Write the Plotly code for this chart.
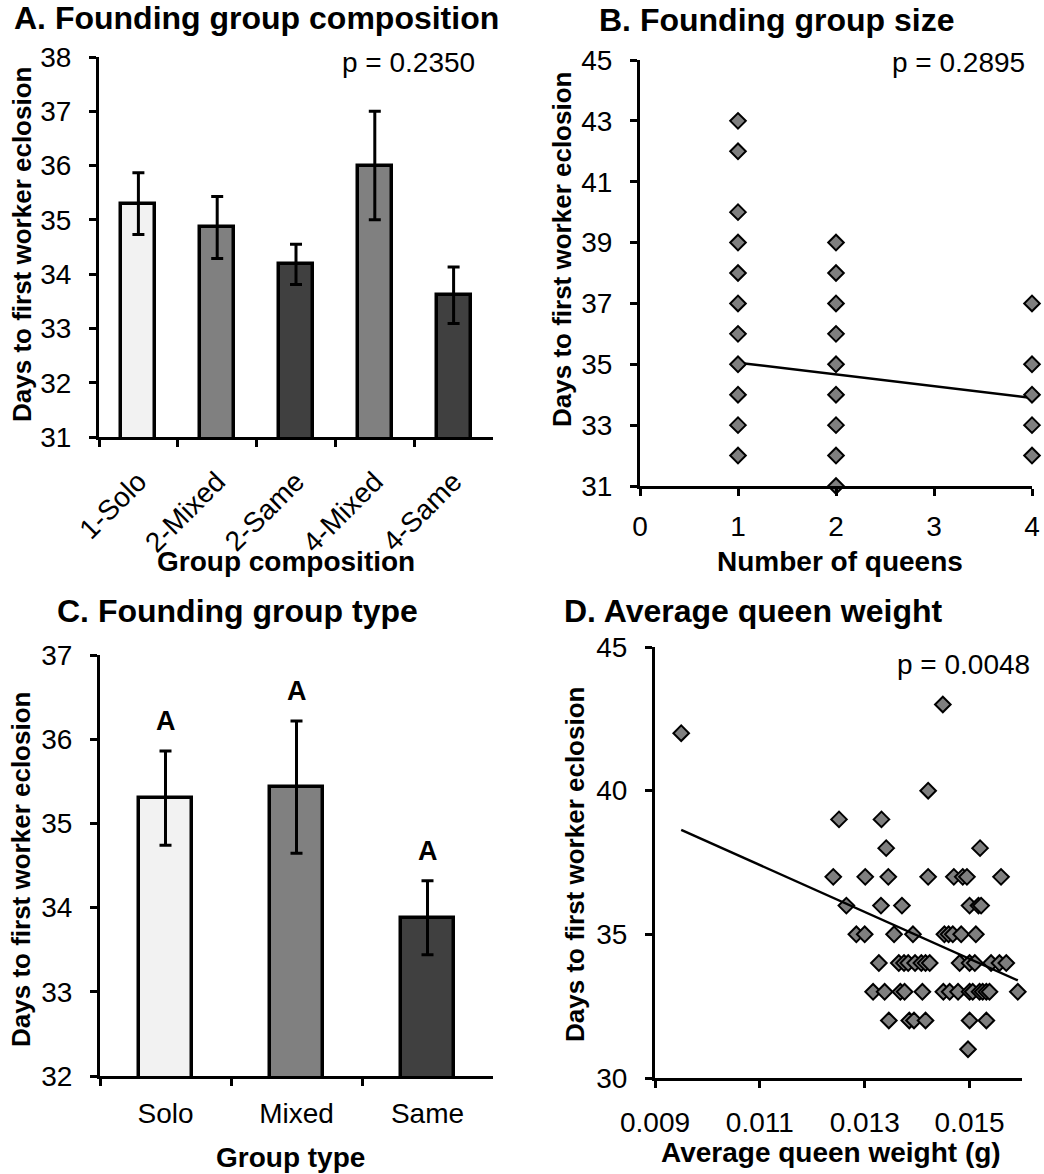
import plotly.graph_objects as go

W, H = 1044, 1174
FONT = "Liberation Sans, Arial, sans-serif"

# ---- A. Founding group composition (means ± SE) ----
comp_labels = ["1-Solo", "2-Mixed", "2-Same", "4-Mixed", "4-Same"]
comp_means = [35.30, 34.86, 34.18, 36.00, 33.61]
comp_se = [0.57, 0.57, 0.37, 1.00, 0.52]
comp_colors = ["#f2f2f2", "#808080", "#404040", "#808080", "#404040"]

# ---- B. Founding group size ----
size_q1 = [32, 33, 34, 35, 36, 37, 38, 39, 40, 42, 43]
size_q2 = [31, 32, 33, 34, 35, 36, 37, 38, 39]
size_q4 = [32, 33, 34, 35, 37]
size_fit = {"slope": -0.387, "intercept": 35.44}

# ---- C. Founding group type (means ± SE) ----
type_labels = ["Solo", "Mixed", "Same"]
type_means = [35.30, 35.43, 33.88]
type_se = [0.56, 0.785, 0.44]
type_colors = ["#f2f2f2", "#808080", "#404040"]
type_letters = ["A", "A", "A"]

# ---- D. Average queen weight (g) vs days ----
weight_rows = {
    43: [0.01449],
    42: [0.0095],
    40: [0.01421],
    39: [0.01251, 0.01332],
    38: [0.01341, 0.01520],
    37: [0.01240, 0.01301, 0.01345, 0.01421, 0.01470, 0.01487, 0.01495, 0.01560],
    36: [0.01265, 0.01331, 0.01371, 0.01500, 0.01517, 0.01522],
    35: [0.01284, 0.01300, 0.01356, 0.01392, 0.01452, 0.01460, 0.01468, 0.01484, 0.01512],
    34: [0.01327, 0.01365, 0.01375, 0.01383, 0.01396, 0.01408, 0.01416, 0.01424,
         0.01481, 0.01500, 0.01510, 0.01541, 0.01557, 0.01570],
    33: [0.01316, 0.01338, 0.01368, 0.01376, 0.01410, 0.01450, 0.01462, 0.01478,
         0.01500, 0.01506, 0.01519, 0.01525, 0.01532, 0.01538, 0.01592],
    32: [0.01346, 0.01385, 0.01394, 0.01416, 0.01500, 0.01532],
    31: [0.01497],
}
weight_fit = {"slope": -816.2, "intercept": 46.39}

p_values = {"A": "p = 0.2350", "B": "p = 0.2895", "D": "p = 0.0048"}


def xd(a, b):
    return [a / W, b / W]


def yd(top, bottom):
    return [1 - bottom / H, 1 - top / H]


def px(x):
    return x / W


def py(y):
    return 1 - y / H


fig = go.Figure()

# A bars
fig.add_trace(go.Bar(
    x=comp_labels, y=comp_means, width=0.43,
    marker=dict(color=comp_colors, line=dict(color="black", width=3.5)),
    error_y=dict(type="data", array=comp_se, color="black", thickness=3, width=6),
    xaxis="x", yaxis="y", showlegend=False,
))

# B scatter
b_x = [1] * len(size_q1) + [2] * len(size_q2) + [4] * len(size_q4)
b_y = size_q1 + size_q2 + size_q4
b_fx = [min(b_x), max(b_x)]
b_fy = [size_fit["intercept"] + size_fit["slope"] * v for v in b_fx]
fig.add_trace(go.Scatter(
    x=b_fx, y=b_fy, mode="lines", line=dict(color="black", width=2.5),
    xaxis="x2", yaxis="y2", showlegend=False, cliponaxis=False,
))
fig.add_trace(go.Scatter(
    x=b_x, y=b_y, mode="markers",
    marker=dict(symbol="diamond", size=12, color="#7f7f7f", line=dict(color="black", width=2)),
    xaxis="x2", yaxis="y2", showlegend=False, cliponaxis=False,
))

# C bars
fig.add_trace(go.Bar(
    x=type_labels, y=type_means, width=0.40,
    marker=dict(color=type_colors, line=dict(color="black", width=3.5)),
    error_y=dict(type="data", array=type_se, color="black", thickness=3, width=6),
    xaxis="x3", yaxis="y3", showlegend=False,
))

# D scatter
d_x, d_y = [], []
for days, weights in weight_rows.items():
    d_x += weights
    d_y += [days] * len(weights)
d_fx = [min(d_x), max(d_x)]
d_fy = [weight_fit["intercept"] + weight_fit["slope"] * v for v in d_fx]
fig.add_trace(go.Scatter(
    x=d_x, y=d_y, mode="markers",
    marker=dict(symbol="diamond", size=12, color="#7f7f7f", line=dict(color="black", width=2)),
    xaxis="x4", yaxis="y4", showlegend=False, cliponaxis=False,
))
fig.add_trace(go.Scatter(
    x=d_fx, y=d_fy, mode="lines", line=dict(color="black", width=2.5),
    xaxis="x4", yaxis="y4", showlegend=False, cliponaxis=False,
))

axis_common = dict(
    showline=True, linecolor="black", linewidth=3, showgrid=False, zeroline=False,
    ticks="outside", ticklen=7, tickwidth=3, tickcolor="black", automargin=False,
    tickfont=dict(family=FONT, size=28, color="black"),
)

fig.update_layout(
    width=W, height=H, margin=dict(l=0, r=0, t=0, b=0, pad=0),
    paper_bgcolor="white", plot_bgcolor="white", bargap=0,
    font=dict(family=FONT, color="black"),
    xaxis=dict(axis_common, domain=xd(99, 493), anchor="y", type="category",
               range=[-0.5, 4.5], tickson="boundaries", tickangle=-45,
               ticklabelstandoff=14),
    yaxis=dict(axis_common, domain=yd(57, 437), anchor="x", range=[31, 38],
               tick0=31, dtick=1, ticklabelstandoff=12),
    xaxis2=dict(axis_common, domain=xd(640, 1032), anchor="y2", range=[0, 4],
                tick0=0, dtick=1, ticklabelstandoff=6),
    yaxis2=dict(axis_common, domain=yd(60, 486), anchor="x2", range=[31, 45],
                tick0=31, dtick=2, ticklabelstandoff=12),
    xaxis3=dict(axis_common, domain=xd(100, 493), anchor="y3", type="category",
                range=[-0.5, 2.5], tickson="boundaries", ticklabelstandoff=10),
    yaxis3=dict(axis_common, domain=yd(655, 1076), anchor="x3", range=[32, 37],
                tick0=32, dtick=1, ticklabelstandoff=12),
    xaxis4=dict(axis_common, domain=xd(655, 1022), anchor="y4", range=[0.009, 0.016],
                tick0=0.009, dtick=0.002, tickformat=".3f", ticklabelstandoff=10),
    yaxis4=dict(axis_common, domain=yd(647, 1078), anchor="x4", range=[30, 45],
                tick0=30, dtick=5, ticklabelstandoff=12),
)

ann = []


def text(x, y, s, size, bold=False, xanchor="center", angle=0):
    ann.append(dict(
        x=px(x), y=py(y), xref="paper", yref="paper", text=f"<b>{s}</b>" if bold else s,
        showarrow=False, xanchor=xanchor, yanchor="middle", textangle=angle,
        font=dict(family=FONT, size=size, color="black"),
    ))


# panel titles
text(12, 18, "A. Founding group composition", 32, True, "left")
text(597, 20, "B. Founding group size", 32, True, "left")
text(55, 611, "C. Founding group type", 32, True, "left")
text(562, 611, "D. Average queen weight", 32, True, "left")

# p-values
text(477, 62, p_values["A"], 28, xanchor="right")
text(1027, 63, p_values["B"], 28, xanchor="right")
text(1032, 664, p_values["D"], 28, xanchor="right")

# axis titles
text(286, 561, "Group composition", 28, True)
text(840, 561, "Number of queens", 28, True)
text(290, 1157, "Group type", 28, True)
text(831, 1152, "Average queen weight (g)", 28, True)
ytitle = "Days to first worker eclosion"
text(22, 245, ytitle, 26, True, angle=-90)
text(562, 250, ytitle, 26, True, angle=-90)
text(21, 870, ytitle, 26, True, angle=-90)
text(575, 865, ytitle, 26, True, angle=-90)

# significance letters above bars in C
for lab, m, e, letter in zip(type_labels, type_means, type_se, type_letters):
    ann.append(dict(
        x=lab, y=m + e, xref="x3", yref="y3", text=f"<b>{letter}</b>",
        showarrow=False, yanchor="middle", yshift=30,
        font=dict(family=FONT, size=27, color="black"),
    ))

fig.update_layout(annotations=ann)
fig.write_html("out.html")
